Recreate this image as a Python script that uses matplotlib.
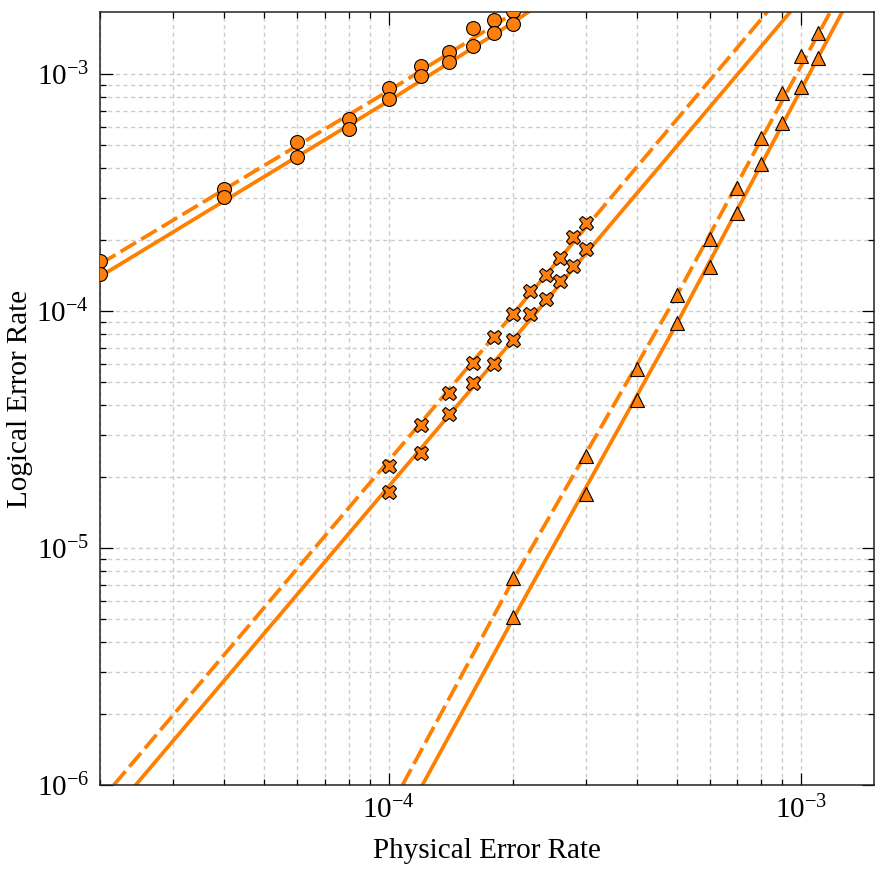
import matplotlib
matplotlib.use("Agg")
import matplotlib.pyplot as plt
from matplotlib.ticker import LogLocator, NullFormatter

plt.rcParams['font.family'] = ['Liberation Serif', 'DejaVu Serif']
plt.rcParams['mathtext.fontset'] = 'stix'

# ---- data ----
# circles
p_circ = [2e-5, 4e-5, 6e-5, 8e-5, 1e-4, 1.2e-4, 1.4e-4, 1.6e-4, 1.8e-4, 2e-4]
circ_dash = [1.62e-4, 3.27e-4, 5.16e-4, 6.46e-4, 8.73e-4, 1.08e-3, 1.24e-3, 1.56e-3, 1.69e-3, 1.85e-3]
circ_solid = [1.43e-4, 3.03e-4, 4.47e-4, 5.86e-4, 7.85e-4, 9.8e-4, 1.12e-3, 1.32e-3, 1.49e-3, 1.63e-3]
# crosses
p_cross = [1e-4, 1.2e-4, 1.4e-4, 1.6e-4, 1.8e-4, 2e-4, 2.2e-4, 2.4e-4, 2.6e-4, 2.8e-4, 3e-4]
cross_dash = [2.22e-5, 3.30e-5, 4.51e-5, 6.04e-5, 7.77e-5, 9.7e-5, 1.21e-4, 1.42e-4, 1.67e-4, 2.05e-4, 2.35e-4]
cross_solid = [1.72e-5, 2.52e-5, 3.67e-5, 4.97e-5, 5.97e-5, 7.55e-5, 9.7e-5, 1.125e-4, 1.34e-4, 1.55e-4, 1.83e-4]
# triangles
p_tri = [2e-4, 3e-4, 4e-4, 5e-4, 6e-4, 7e-4, 8e-4, 9e-4, 1e-3, 1.1e-3]
tri_dash = [7.46e-6, 2.44e-5, 5.69e-5, 1.17e-4, 2.01e-4, 3.30e-4, 5.37e-4, 8.32e-4, 1.19e-3, 1.49e-3]
tri_solid = [5.12e-6, 1.69e-5, 4.21e-5, 8.9e-5, 1.53e-4, 2.59e-4, 4.17e-4, 6.21e-4, 8.81e-4, 1.17e-3]

# fitted curves (knots)
fit_circ_dash_x = [2e-5, 1e-4, 2e-4, 2.4e-4]
fit_circ_dash_y = [1.58e-4, 8.5e-4, 1.80e-3, 2.2e-3]
fit_circ_solid_x = [2e-5, 1e-4, 2e-4, 2.4e-4]
fit_circ_solid_y = [1.40e-4, 7.7e-4, 1.65e-3, 2.05e-3]
fit_cross_dash_x = [2.16e-5, 2e-4, 8.27e-4]
fit_cross_dash_y = [1e-6, 9.7e-5, 1.83e-3]
fit_cross_solid_x = [2.44e-5, 2e-4, 9.4e-4]
fit_cross_solid_y = [1e-6, 7.55e-5, 1.83e-3]
fit_tri_dash_x = [1.081e-4, 2e-4, 5e-4, 1.175e-3]
fit_tri_dash_y = [1e-6, 7.3e-6, 1.17e-4, 1.83e-3]
fit_tri_solid_x = [1.208e-4, 2e-4, 5e-4, 1.256e-3]
fit_tri_solid_y = [1e-6, 5.0e-6, 8.9e-5, 1.83e-3]

xlim = (2e-5, 1.5e-3)
ylim = (1e-6, 1.83e-3)
color = '#ff7f0e'
line_color = '#ff8000'

fig = plt.figure(figsize=(8.86, 8.86), dpi=100)
ax = fig.add_axes([0.1129, 0.114, 0.8736, 0.8725])
ax.set_xscale('log')
ax.set_yscale('log')

lw = 2.7
dash = (4.8, 1.6)
ax.plot(fit_circ_dash_x, fit_circ_dash_y, color=line_color, lw=lw, dashes=dash, zorder=2)
ax.plot(fit_circ_solid_x, fit_circ_solid_y, color=line_color, lw=lw, zorder=2)
ax.plot(fit_cross_dash_x, fit_cross_dash_y, color=line_color, lw=lw, dashes=dash, zorder=2)
ax.plot(fit_cross_solid_x, fit_cross_solid_y, color=line_color, lw=lw, zorder=2)
ax.plot(fit_tri_dash_x, fit_tri_dash_y, color=line_color, lw=lw, dashes=dash, zorder=2)
ax.plot(fit_tri_solid_x, fit_tri_solid_y, color=line_color, lw=lw, zorder=2)

mk = dict(linestyle='none', markerfacecolor=color, markeredgecolor='black',
          markeredgewidth=0.8, zorder=3, clip_on=True)
ax.plot(p_circ, circ_dash, marker='o', markersize=10, **mk)
ax.plot(p_circ, circ_solid, marker='o', markersize=10, **mk)
ax.plot(p_cross, cross_dash, marker='X', markersize=10.5, **mk)
ax.plot(p_cross, cross_solid, marker='X', markersize=10.5, **mk)
ax.plot(p_tri, tri_dash, marker='^', markersize=10, **mk)
ax.plot(p_tri, tri_solid, marker='^', markersize=10, **mk)

ax.set_xlim(*xlim)
ax.set_ylim(*ylim)

ax.xaxis.set_major_locator(LogLocator(base=10, numticks=20))
ax.xaxis.set_minor_locator(LogLocator(base=10, subs=range(2, 10), numticks=20))
ax.yaxis.set_major_locator(LogLocator(base=10, numticks=20))
ax.yaxis.set_minor_locator(LogLocator(base=10, subs=range(2, 10), numticks=20))
ax.xaxis.set_minor_formatter(NullFormatter())
ax.yaxis.set_minor_formatter(NullFormatter())

ax.grid(True, which='both', color='#cccccc', linestyle=(0, (3, 2.5)), linewidth=1.0, zorder=0)
ax.set_axisbelow(True)

ax.tick_params(which='both', direction='in', top=True, right=True, labelsize=21,
               width=0.9, color='black')
ax.tick_params(which='major', length=9, pad=8)
ax.tick_params(which='minor', length=4.5)
for s in ax.spines.values():
    s.set_linewidth(1.1)
    s.set_color('#222222')

ax.set_xlabel('Physical Error Rate', fontsize=21)
ax.set_ylabel('Logical Error Rate', fontsize=21)
ax.xaxis.set_label_coords(0.5, -0.069)
ax.yaxis.set_label_coords(-0.087, 0.5)

fig.savefig('out.png', dpi=100)
